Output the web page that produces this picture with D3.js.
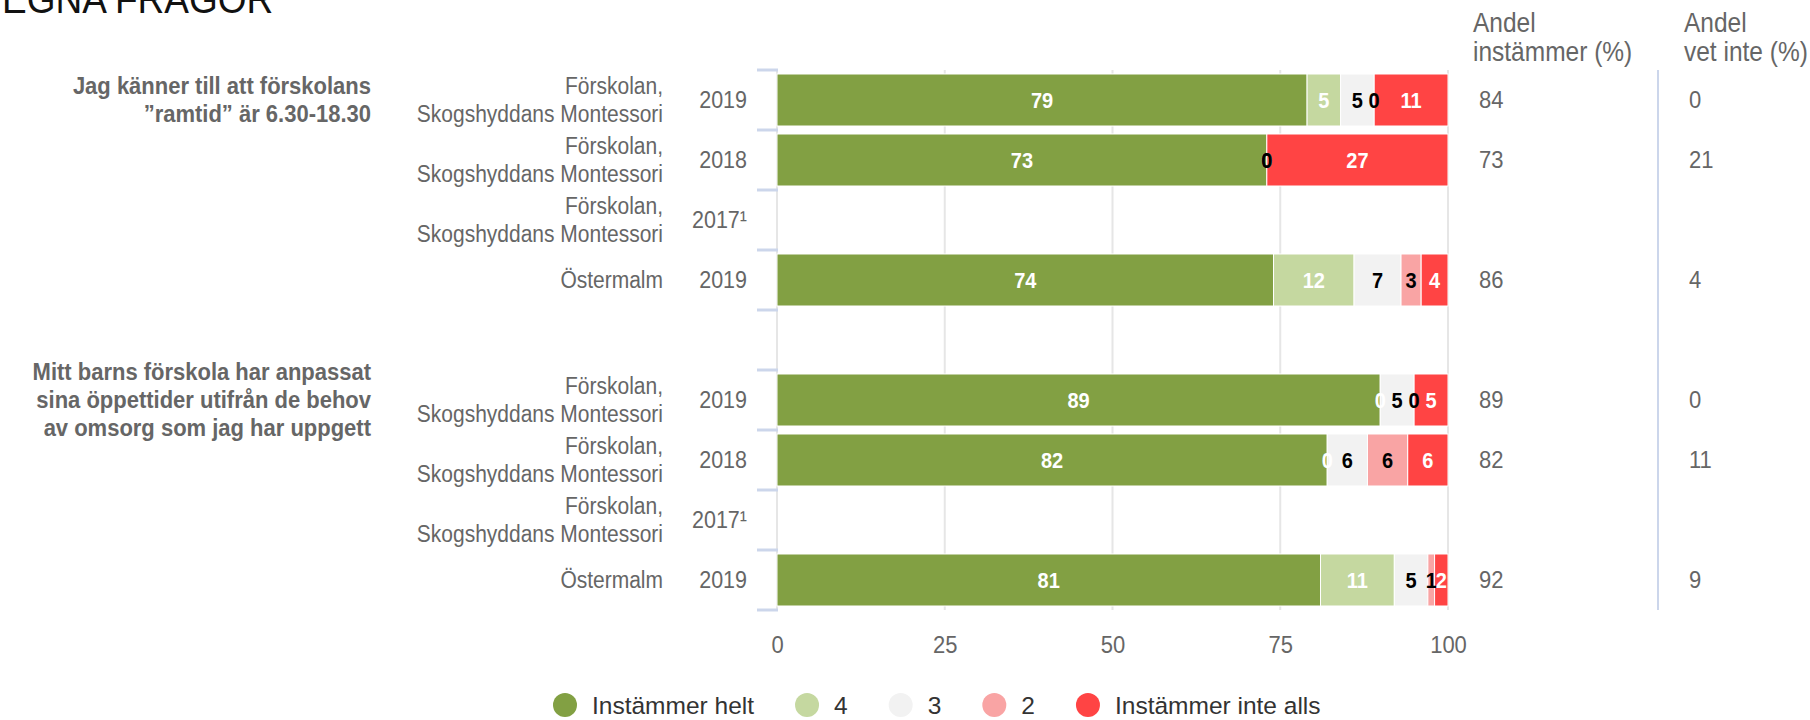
<!DOCTYPE html>
<html>
<head>
<meta charset="utf-8">
<script src="https://cdnjs.cloudflare.com/ajax/libs/d3/7.8.5/d3.min.js"></script>
<style>
  body { margin: 0; background: #fff; }
  svg { display: block; font-family: "Liberation Sans", Arial, sans-serif; }
</style>
</head>
<body>
<div id="chart"></div>
<script>
// rows of the chart, top to bottom (row 4 is the blank spacer between the two questions)
const questions = [
  "Jag känner till att förskolans\n”ramtid” är 6.30-18.30",
  "Mitt barns förskola har anpassat\nsina öppettider utifrån de behov\nav omsorg som jag har uppgett"
];
const questionRow = [0, 5];
const units = [
  "Förskolan,\nSkogshyddans Montessori", "Förskolan,\nSkogshyddans Montessori",
  "Förskolan,\nSkogshyddans Montessori", "Östermalm", "",
  "Förskolan,\nSkogshyddans Montessori", "Förskolan,\nSkogshyddans Montessori",
  "Förskolan,\nSkogshyddans Montessori", "Östermalm"
];
const years = ["2019", "2018", "2017¹", "2019", "", "2019", "2018", "2017¹", "2019"];

const seriesNames = ["Instämmer helt", "4", "3", "2", "Instämmer inte alls"];
const helt      = [79, 73, null, 74, null, 89, 82, null, 81];
const fyra      = [5,  0,  null, 12, null, 0,  0,  null, 11];
const tre       = [5,  0,  null, 7,  null, 5,  6,  null, 5];
const tva       = [0,  0,  null, 3,  null, 0,  6,  null, 1];
const inteAlls  = [11, 27, null, 4,  null, 5,  6,  null, 2];

const andelInstammer = [84, 73, null, 86, null, 89, 82, null, 92];
const andelVetInte   = [0,  21, null, 4,  null, 0,  11, null, 9];

const xTicks = [0, 25, 50, 75, 100];

const colors = ["#82a043", "#c5d8a0", "#f2f2f2", "#f9a4a4", "#ff4444"];
const labelColors = ["#fff", "#fff", "#000", "#000", "#fff"];
const greyText = "#666666";

const W = 1810, H = 720;
const plot = { left: 777, right: 1448, top: 70, bottom: 610 };

const svg = d3.select("#chart").append("svg")
  .attr("width", W).attr("height", H);

const keys = ["s0", "s1", "s2", "s3", "s4"];
const valueArrays = [helt, fyra, tre, tva, inteAlls];
const table = units.map((u, i) => {
  const row = { i: i };
  keys.forEach((k, j) => row[k] = valueArrays[j][i]);
  return row;
});

const stacked = d3.stack()
  .keys(keys)
  .value((d, k) => d[k] || 0)
  .offset(d3.stackOffsetExpand)(table);

const x = d3.scaleLinear().domain([0, 1]).range([plot.left, plot.right]);
const xPct = d3.scaleLinear().domain([0, 100]).range([plot.left, plot.right]);
const y = d3.scaleBand()
  .domain(d3.range(units.length))
  .range([plot.top, plot.bottom])
  .paddingInner(0.1333)
  .paddingOuter(0.0667);
const yEdge = d3.scaleLinear().domain([0, units.length]).range([plot.top, plot.bottom]);

// title, cut at the top edge
svg.append("text")
  .attr("x", 2).attr("y", 13)
  .attr("font-size", 37).attr("fill", "#111")
  .text("EGNA FRÅGOR");

// vertical grid lines
svg.append("g").selectAll("line")
  .data(xTicks)
  .join("line")
  .attr("x1", d => xPct(d)).attr("x2", d => xPct(d))
  .attr("y1", plot.top).attr("y2", plot.bottom)
  .attr("stroke", "#e6e6e6").attr("stroke-width", 2);

// x axis labels
const xAxis = d3.axisBottom(xPct).tickValues(xTicks).tickSize(0).tickPadding(26);
const gx = svg.append("g")
  .attr("transform", "translate(0," + plot.bottom + ")")
  .call(xAxis);
gx.select(".domain").remove();
gx.selectAll("text")
  .attr("font-size", 22).attr("fill", greyText)
  .attr("font-family", "Liberation Sans, Arial, sans-serif");

// category tick marks
svg.append("g").selectAll("line")
  .data(d3.range(units.length + 1))
  .join("line")
  .attr("x1", 757).attr("x2", 778)
  .attr("y1", d => yEdge(d)).attr("y2", d => yEdge(d))
  .attr("stroke", "#ccd6eb").attr("stroke-width", 3);

// bars
svg.append("clipPath").attr("id", "plotclip")
  .append("rect")
  .attr("x", plot.left).attr("y", plot.top)
  .attr("width", plot.right - plot.left).attr("height", plot.bottom - plot.top);

const hasData = i => helt[i] != null;

svg.append("g").selectAll("g")
  .data(stacked)
  .join("g")
  .attr("fill", (s, j) => colors[j])
  .selectAll("rect")
  .data(s => s.filter(d => hasData(d.data.i)))
  .join("rect")
  .attr("x", d => x(d[0]))
  .attr("width", d => Math.max(0, x(d[1]) - x(d[0])))
  .attr("y", d => y(d.data.i))
  .attr("height", y.bandwidth())
  .attr("stroke", "#fff").attr("stroke-width", 1);

// value labels inside the bars
svg.append("g").attr("clip-path", "url(#plotclip)")
  .selectAll("g")
  .data(stacked)
  .join("g")
  .attr("fill", (s, j) => labelColors[j])
  .selectAll("text")
  .data(s => s.filter(d => hasData(d.data.i)).map(d => ({ d: d, key: s.key })))
  .join("text")
  .attr("x", o => x((o.d[0] + o.d[1]) / 2))
  .attr("y", o => y(o.d.data.i) + y.bandwidth() / 2)
  .attr("dy", "0.35em")
  .attr("text-anchor", "middle")
  .attr("font-size", 20).attr("font-weight", "bold")
  .text(o => o.d.data[o.key]);

// unit labels (one or two lines)
const unitG = svg.append("g").attr("fill", greyText).attr("font-size", 21)
  .attr("text-anchor", "end");
units.forEach((u, i) => {
  if (!u) return;
  const lines = u.split("\n");
  const cy = y(i) + y.bandwidth() / 2;
  lines.forEach((ln, k) => {
    unitG.append("text")
      .attr("x", 663)
      .attr("y", cy + (k - (lines.length - 1) / 2) * 28)
      .attr("dy", "0.35em")
      .text(ln);
  });
});

// year labels
svg.append("g").attr("fill", greyText).attr("font-size", 21.5).attr("text-anchor", "end")
  .selectAll("text")
  .data(years)
  .join("text")
  .attr("x", 747)
  .attr("y", (d, i) => y(i) + y.bandwidth() / 2)
  .attr("dy", "0.35em")
  .text(d => d);

// question labels
const qG = svg.append("g").attr("fill", greyText).attr("font-size", 22)
  .attr("font-weight", "bold").attr("text-anchor", "end");
questions.forEach((q, n) => {
  const lines = q.split("\n");
  const cy = y(questionRow[n]) + y.bandwidth() / 2;
  lines.forEach((ln, k) => {
    qG.append("text")
      .attr("x", 371)
      .attr("y", cy + (k - (lines.length - 1) / 2) * 28)
      .attr("dy", "0.35em")
      .text(ln);
  });
});

// right hand columns
const colHeaders = [["Andel", "instämmer (%)"], ["Andel", "vet inte (%)"]];
const colHeaderX = [1473, 1684];
const colValueX = [1479, 1689];
const colValues = [andelInstammer, andelVetInte];

colHeaders.forEach((hd, c) => {
  hd.forEach((ln, k) => {
    svg.append("text")
      .attr("x", colHeaderX[c]).attr("y", 23 + k * 29)
      .attr("dy", "0.35em")
      .attr("font-size", 24.5).attr("fill", greyText)
      .text(ln);
  });
  svg.append("g").attr("font-size", 22).attr("fill", greyText)
    .selectAll("text")
    .data(colValues[c].map((v, i) => ({ v: v, i: i })).filter(o => o.v != null))
    .join("text")
    .attr("x", colValueX[c])
    .attr("y", o => y(o.i) + y.bandwidth() / 2)
    .attr("dy", "0.35em")
    .text(o => o.v);
});

svg.append("line")
  .attr("x1", 1658).attr("x2", 1658)
  .attr("y1", plot.top).attr("y2", plot.bottom)
  .attr("stroke", "#ccd6eb").attr("stroke-width", 2);

// the reference type is a little taller than it is wide: stretch every text a bit about its own line
svg.selectAll("text").each(function() {
  const t = d3.select(this);
  const ty = +t.attr("y") || 0;
  t.attr("transform", "translate(0," + ty + ") scale(1,1.1) translate(0," + (-ty) + ")");
});

// legend (kept unstretched so it stays inside the bottom edge)
const legend = svg.append("g");
let lx = 565;
seriesNames.forEach((name, j) => {
  legend.append("circle")
    .attr("cx", lx).attr("cy", 705).attr("r", 12)
    .attr("fill", colors[j]);
  const t = legend.append("text")
    .attr("x", lx + 27).attr("y", 705).attr("dy", "0.35em")
    .attr("font-size", 24.5).attr("fill", "#333")
    .text(name);
  lx += 27 + t.node().getComputedTextLength() + 53;
});
</script>
</body>
</html>
